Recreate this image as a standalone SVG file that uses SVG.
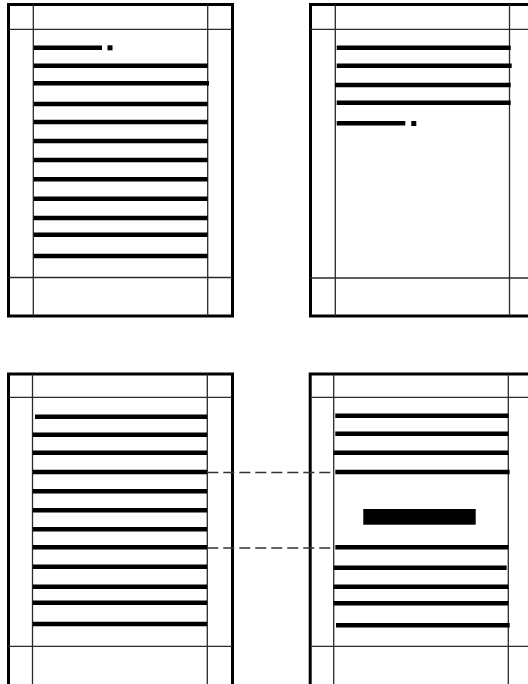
<svg xmlns="http://www.w3.org/2000/svg" width="528" height="684" viewBox="0 0 528 684">
<style>
.frame{fill:none;stroke:#000;stroke-width:3}
.thin{stroke:#2a2a2a;stroke-width:1.3;fill:none}
.bar{stroke:#000;stroke-width:4.5}
.dash{stroke:#333;stroke-width:1.3;stroke-dasharray:11,5;fill:none}
</style>
<rect width="528" height="684" fill="#fff"/>
<g id="page-top-left">
<rect class="frame" x="8.5" y="4.5" width="224" height="311.5"/>
<line class="thin" x1="33.3" y1="4.5" x2="33.3" y2="316"/>
<line class="thin" x1="207.7" y1="4.5" x2="207.7" y2="316"/>
<line class="thin" x1="8.5" y1="29.3" x2="232.5" y2="29.3"/>
<line class="thin" x1="8.5" y1="277.5" x2="232.5" y2="277.5"/>
<line class="bar" x1="33.7" y1="47.7" x2="102" y2="47.7"/>
<rect x="107.5" y="45.3" width="5" height="5" fill="#000"/>
<line class="bar" x1="33.7" y1="65.7" x2="207.7" y2="65.7"/>
<line class="bar" x1="33.7" y1="83.3" x2="209" y2="83.3"/>
<line class="bar" x1="33.7" y1="104" x2="207.7" y2="104"/>
<line class="bar" x1="33.7" y1="122" x2="207.7" y2="122"/>
<line class="bar" x1="33.7" y1="141" x2="207.7" y2="141"/>
<line class="bar" x1="33.7" y1="160" x2="207.7" y2="160"/>
<line class="bar" x1="33.7" y1="179.3" x2="207.7" y2="179.3"/>
<line class="bar" x1="33.7" y1="198.7" x2="207.7" y2="198.7"/>
<line class="bar" x1="33.7" y1="218" x2="207.7" y2="218"/>
<line class="bar" x1="33.7" y1="234.7" x2="207.7" y2="234.7"/>
<line class="bar" x1="33.7" y1="256" x2="207.7" y2="256"/>
</g>
<g id="page-top-right">
<rect class="frame" x="310.5" y="4.5" width="224" height="311.5"/>
<line class="thin" x1="335.3" y1="4.5" x2="335.3" y2="316"/>
<line class="thin" x1="509.5" y1="4.5" x2="509.5" y2="316"/>
<line class="thin" x1="310.5" y1="29.3" x2="534.5" y2="29.3"/>
<line class="thin" x1="310.5" y1="278" x2="534.5" y2="278"/>
<line class="bar" x1="336.7" y1="47.7" x2="510.7" y2="47.7"/>
<line class="bar" x1="336.7" y1="65.7" x2="511.7" y2="65.7"/>
<line class="bar" x1="335" y1="85" x2="510.7" y2="85"/>
<line class="bar" x1="336.7" y1="102.7" x2="510.7" y2="102.7"/>
<line class="bar" x1="336.7" y1="123.3" x2="405.3" y2="123.3"/>
<rect x="411.3" y="121" width="5" height="5" fill="#000"/>
</g>
<g id="page-bottom-left">
<rect class="frame" x="8.5" y="374" width="224" height="320"/>
<line class="thin" x1="32.5" y1="374" x2="32.5" y2="684"/>
<line class="thin" x1="207.3" y1="374" x2="207.3" y2="684"/>
<line class="thin" x1="8.5" y1="397.3" x2="232.5" y2="397.3"/>
<line class="thin" x1="8.5" y1="646.3" x2="232.5" y2="646.3"/>
<line class="bar" x1="35" y1="416.7" x2="207" y2="416.7"/>
<line class="bar" x1="32.7" y1="434.7" x2="207" y2="434.7"/>
<line class="bar" x1="32.7" y1="452.7" x2="207" y2="452.7"/>
<line class="bar" x1="32.7" y1="472" x2="207" y2="472"/>
<line class="bar" x1="32.7" y1="491.3" x2="207" y2="491.3"/>
<line class="bar" x1="32.7" y1="510.3" x2="207" y2="510.3"/>
<line class="bar" x1="32.7" y1="529.3" x2="207" y2="529.3"/>
<line class="bar" x1="32.7" y1="547.3" x2="207" y2="547.3"/>
<line class="bar" x1="32.7" y1="566.7" x2="207" y2="566.7"/>
<line class="bar" x1="32.7" y1="586.7" x2="207" y2="586.7"/>
<line class="bar" x1="32.7" y1="602.7" x2="207" y2="602.7"/>
<line class="bar" x1="32.7" y1="624" x2="207" y2="624"/>
</g>
<g id="page-bottom-right">
<rect class="frame" x="310.2" y="374" width="224" height="320"/>
<line class="thin" x1="333.7" y1="374" x2="333.7" y2="684"/>
<line class="thin" x1="508.3" y1="374" x2="508.3" y2="684"/>
<line class="thin" x1="310.2" y1="397.3" x2="534.5" y2="397.3"/>
<line class="thin" x1="310.2" y1="646.3" x2="534.5" y2="646.3"/>
<line class="bar" x1="335.3" y1="415.7" x2="508.3" y2="415.7"/>
<line class="bar" x1="335.3" y1="433.7" x2="508.3" y2="433.7"/>
<line class="bar" x1="333.7" y1="452.7" x2="508.3" y2="452.7"/>
<line class="bar" x1="335.3" y1="472" x2="509.7" y2="472"/>
<rect x="363.3" y="509" width="112.4" height="15.7" fill="#000"/>
<line class="bar" x1="335.3" y1="547.3" x2="508.3" y2="547.3"/>
<line class="bar" x1="333.7" y1="567.7" x2="506.7" y2="567.7"/>
<line class="bar" x1="333.7" y1="586.7" x2="508.3" y2="586.7"/>
<line class="bar" x1="333.7" y1="603.3" x2="508.3" y2="603.3"/>
<line class="bar" x1="336" y1="625.3" x2="509.7" y2="625.3"/>
</g>
<g id="connectors">
<line class="dash" x1="207.3" y1="472.5" x2="334" y2="472.5"/>
<line class="dash" x1="207.3" y1="548" x2="334" y2="548"/>
</g>
</svg>
